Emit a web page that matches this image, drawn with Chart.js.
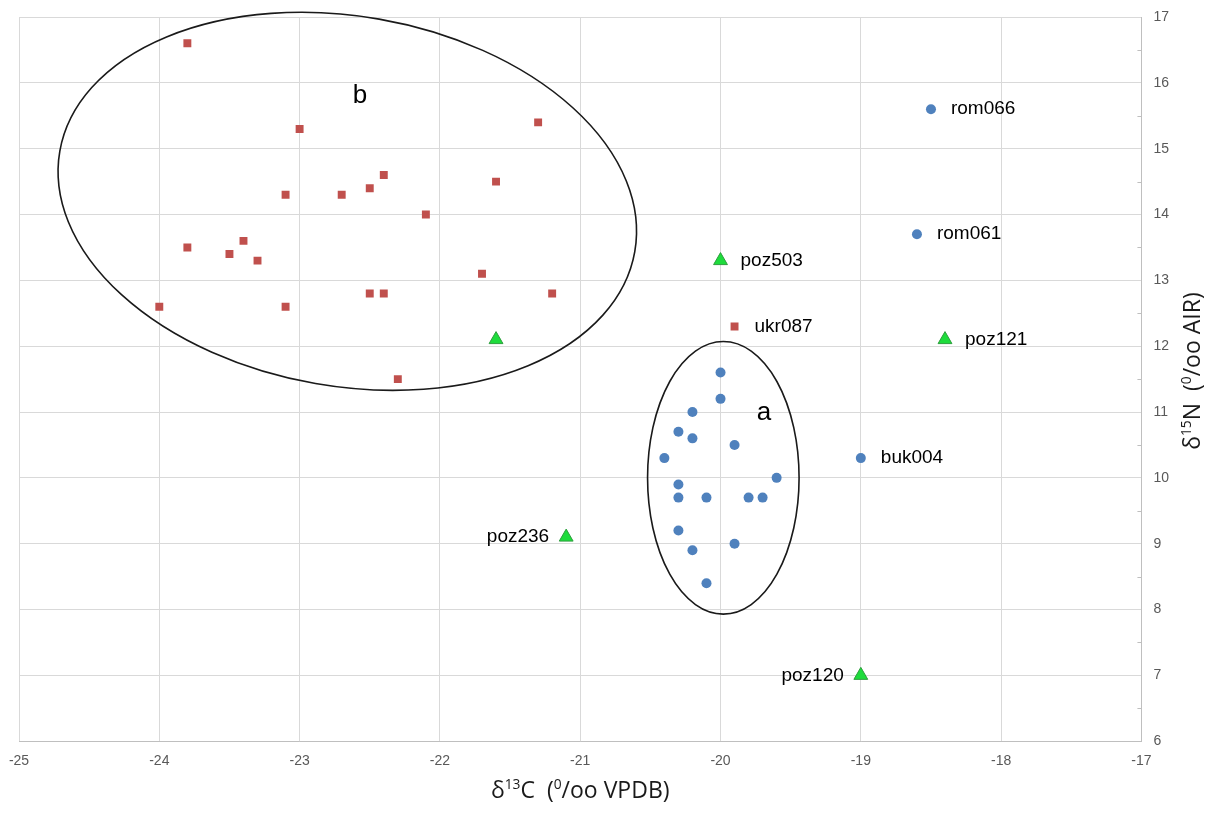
<!DOCTYPE html>
<html>
<head>
<meta charset="utf-8">
<script src="https://cdn.jsdelivr.net/npm/chart.js@4.4.0/dist/chart.umd.min.js"></script>
<style>
  body { margin: 0; background: #fff; }
</style>
</head>
<body>
<canvas id="myChart" width="1218" height="819"></canvas>
<script>
// axis ranges (tick every 1 unit)
var xRange = [-25, -17];
var yRange = [6, 17];

// blue circles: group a plus rom066, rom061, buk004
var blueX = [-20.0, -20.0, -20.2, -20.3, -20.2, -19.9, -20.4, -19.6, -20.3, -20.3, -20.1, -19.8, -19.7, -20.3, -19.9, -20.2, -20.1, -18.5, -18.6, -19.0];
var blueY = [11.6, 11.2, 11.0, 10.7, 10.6, 10.5, 10.3, 10.0, 9.9, 9.7, 9.7, 9.7, 9.7, 9.2, 9.0, 8.9, 8.4, 15.6, 13.7, 10.3];
var blueNames = ['', '', '', '', '', '', '', '', '', '', '', '', '', '', '', '', '', 'rom066', 'rom061', 'buk004'];

// red squares: group b plus ukr087
var redX = [-23.8, -23.0, -21.3, -22.4, -22.5, -22.7, -23.1, -21.6, -22.1, -23.8, -23.4, -23.5, -23.3, -21.7, -22.5, -22.4, -21.2, -24.0, -23.1, -22.3, -19.9];
var redY = [16.6, 15.3, 15.4, 14.6, 14.4, 14.3, 14.3, 14.5, 14.0, 13.5, 13.6, 13.4, 13.3, 13.1, 12.8, 12.8, 12.8, 12.6, 12.6, 11.5, 12.3];
var redNames = ['', '', '', '', '', '', '', '', '', '', '', '', '', '', '', '', '', '', '', '', 'ukr087'];

// green triangles
var greenX = [-21.6, -20.0, -18.4, -21.1, -19.0];
var greenY = [12.1, 13.3, 12.1, 9.1, 7.0];
var greenNames = ['', 'poz503', 'poz121', 'poz236', 'poz120'];

// these names sit to the left of their marker
var namesOnLeft = ['poz236', 'poz120'];

// the two hand drawn ovals (data units) and their letters
var ovals = [
  { cx: -19.98, cy: 10.0, rx: 0.54, ry: 2.07, rot: 0 },
  { cx: -22.66, cy: 14.2, rx: 2.08, ry: 2.81, rot: 0.173 }
];
var groupLetters = ['a', 'b'];
var letterX = [-19.69, -22.57];
var letterY = [10.88, 15.69];

function toPoints(xs, ys) {
  return xs.map(function(x, i) { return { x: x, y: ys[i] }; });
}

// draws text with superscript runs, centred on 0,0
function drawRich(c, parts, size) {
  var fam = '"Open Sans", "DejaVu Sans", sans-serif';
  var total = 0;
  parts.forEach(function(p) {
    c.font = (p[1] ? size * 0.6 : size) + 'px ' + fam;
    total += c.measureText(p[0]).width;
  });
  var x = -total / 2;
  c.textBaseline = 'alphabetic';
  c.textAlign = 'left';
  parts.forEach(function(p) {
    c.font = (p[1] ? size * 0.6 : size) + 'px ' + fam;
    c.fillText(p[0], x, size * 0.36 - (p[1] ? size * 0.4 : 0));
    x += c.measureText(p[0]).width;
  });
}

var extras = {
  id: 'extras',
  afterDatasetsDraw: function(chart) {
    var c = chart.ctx, xs = chart.scales.x, ys = chart.scales.y, area = chart.chartArea;
    c.save();

    // small minor ticks on inner side of right axis
    c.strokeStyle = '#bfbfbf';
    c.lineWidth = 1;
    for (var v = yRange[0] + 0.5; v < yRange[1]; v += 1) {
      var py = Math.round(ys.getPixelForValue(v)) + 0.5;
      c.beginPath();
      c.moveTo(area.right - 4, py);
      c.lineTo(area.right, py);
      c.stroke();
    }

    // ovals
    c.strokeStyle = '#1a1a1a';
    c.lineWidth = 1.6;
    ovals.forEach(function(o) {
      var px = xs.getPixelForValue(o.cx), pyc = ys.getPixelForValue(o.cy);
      var rx = Math.abs(xs.getPixelForValue(o.cx + o.rx) - px);
      var ry = Math.abs(ys.getPixelForValue(o.cy + o.ry) - pyc);
      c.beginPath();
      c.ellipse(px, pyc, rx, ry, o.rot, 0, Math.PI * 2);
      c.stroke();
    });

    // group letters
    c.fillStyle = '#000';
    c.font = '26px "Liberation Sans", Arial, sans-serif';
    c.textAlign = 'center';
    c.textBaseline = 'alphabetic';
    groupLetters.forEach(function(t, i) {
      c.fillText(t, xs.getPixelForValue(letterX[i]), ys.getPixelForValue(letterY[i]));
    });

    // sample names next to markers
    c.font = '19px "Liberation Sans", Arial, sans-serif';
    c.textBaseline = 'middle';
    chart.data.datasets.forEach(function(ds, di) {
      var meta = chart.getDatasetMeta(di);
      ds.names.forEach(function(n, i) {
        if (!n) return;
        var el = meta.data[i];
        if (namesOnLeft.indexOf(n) >= 0) {
          c.textAlign = 'right';
          c.fillText(n, el.x - 17, el.y);
        } else {
          c.textAlign = 'left';
          c.fillText(n, el.x + 20, el.y);
        }
      });
    });

    // axis titles
    c.fillStyle = '#1a1a1a';
    c.save();
    c.translate((area.left + area.right) / 2, chart.height - 29);
    drawRich(c, [['δ', 0], ['13', 1], ['C  (', 0], ['0', 1], ['/oo VPDB)', 0]], 23);
    c.restore();
    c.save();
    c.translate(chart.width - 26, (area.top + area.bottom) / 2 - 8);
    c.rotate(-Math.PI / 2);
    drawRich(c, [['δ', 0], ['15', 1], ['N  (', 0], ['0', 1], ['/oo AIR)', 0]], 23);
    c.restore();

    c.restore();
  }
};

var tickFont = { family: '"Liberation Sans", Arial, sans-serif', size: 14 };

var ctx = document.getElementById('myChart');
var myChart = new Chart(ctx, {
  type: 'scatter',
  data: {
    datasets: [{
      label: 'blue',
      data: toPoints(blueX, blueY),
      names: blueNames,
      pointStyle: 'circle',
      pointRadius: 5,
      backgroundColor: '#4f81bd',
      borderColor: '#4f81bd',
      borderWidth: 0
    }, {
      label: 'red',
      data: toPoints(redX, redY),
      names: redNames,
      pointStyle: 'rect',
      pointRadius: 5.6,
      backgroundColor: '#c0504d',
      borderColor: '#c0504d',
      borderWidth: 0
    }, {
      label: 'green',
      data: toPoints(greenX, greenY),
      names: greenNames,
      pointStyle: 'triangle',
      pointRadius: 8,
      backgroundColor: '#1edc3c',
      borderColor: '#2e9e3e',
      borderWidth: 1
    }]
  },
  options: {
    responsive: false,
    animation: false,
    layout: { padding: { top: 17, left: 19, right: 37, bottom: 37 } },
    plugins: { legend: { display: false }, tooltip: { enabled: false } },
    scales: {
      x: {
        type: 'linear',
        min: xRange[0],
        max: xRange[1],
        ticks: { stepSize: 1, color: '#595959', font: tickFont, padding: 12 },
        grid: { color: '#d9d9d9', drawTicks: false },
        border: { color: '#bfbfbf' },
        afterFit: function(scale) { scale.paddingLeft = 0; scale.paddingRight = 0; }
      },
      y: {
        position: 'right',
        min: yRange[0],
        max: yRange[1],
        ticks: { stepSize: 1, color: '#595959', font: tickFont, padding: 12 },
        grid: { color: '#d9d9d9', drawTicks: false },
        border: { color: '#bfbfbf' },
        afterFit: function(scale) { scale.paddingTop = 0; scale.paddingBottom = 0; }
      }
    }
  },
  plugins: [extras]
});
</script>
</body>
</html>
